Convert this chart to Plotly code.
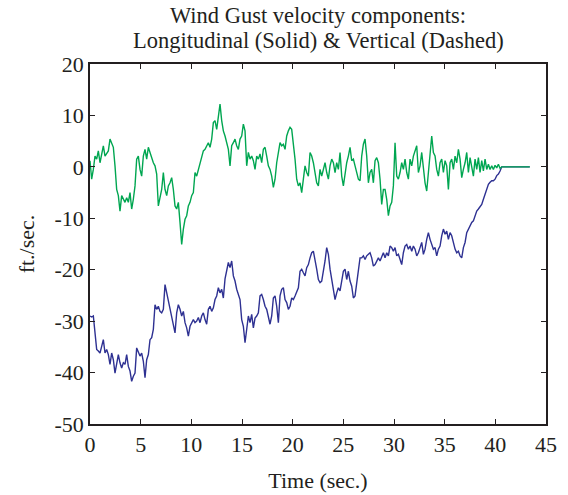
import numpy as np
import plotly.graph_objects as go

# sample period of the digitised gust record (s)
SAMPLE_DT = 0.1645
END_TIME = 43.4

# Vertical gust component (green), ft/sec
vertical = [
    1.2, -2.4, -0.5, 2.1, 1.5, 3.1, 0.8, 2.8, 4.1, 2.1,
    2.5, 3.1, 5.4, 4.7, 3.8, 0.2, -4.4, -5.6, -8.6, -5.6,
    -6.3, -6.9, -6.0, -6.9, -5.0, -8.2, -6.3, -3.7, 1.5, 2.1,
    -0.5, -1.8, 2.1, 3.4, 1.5, 3.8, 2.8, 1.5, 0.8, 0.2,
    -1.4, -7.6, -6.3, -4.4, -1.1, -4.4, -5.6, -3.7, -3.1, -2.1,
    -4.4, -7.6, -8.2, -6.9, -10.8, -15.1, -12.1, -10.2, -9.5, -7.6,
    -6.9, -5.6, -5.0, -1.1, -1.8, -0.5, 0.5, 2.1, 3.1, 3.4,
    4.1, 4.7, 3.8, 5.4, 8.6, 9.0, 7.3, 9.9, 12.2, 9.0,
    7.0, 6.0, 4.7, 3.4, 0.2, 4.1, 4.7, 5.4, 4.1, 3.4,
    5.4, 6.0, 8.3, 7.0, 0.2, 2.8, 1.5, 2.1, 1.2, -0.5,
    2.1, 1.5, 2.5, 0.8, 3.4, 3.8, 2.1, 0.2, -0.5, -1.8,
    -4.0, -2.4, 0.8, 2.8, 4.7, 4.1, 4.4, 3.4, 6.0, 7.0,
    7.7, 7.3, 4.7, 1.5, -2.4, -3.7, -3.1, -5.0, -2.4, 0.2,
    -1.1, -1.8, 2.8, 2.1, 0.8, -1.1, -3.1, -3.7, -0.5, -1.8,
    -0.5, 0.8, -1.1, -2.4, 0.2, 1.5, 0.8, -1.1, 0.8, -0.5,
    2.8, -1.8, -3.7, -1.1, 0.8, 2.1, 3.8, 1.2, 1.5, 0.2,
    -1.1, -2.4, -2.7, 2.1, 4.4, 5.4, 2.1, -3.1, -1.1, -0.5,
    -3.1, 1.2, 1.8, 0.8, -2.4, -7.3, -4.4, -4.4, -6.3, -9.5,
    -7.6, -6.9, -3.7,
    4.7, -1.8, -2.4, -1.1, 0.8, -0.5, 1.5, -1.1, -2.4, 1.5,
    0.2, 2.1, 3.1, 4.1, -1.1, 0.2, 2.8, -0.5, -3.1, -4.7,
    -1.1, 2.8, 6.0, 2.8, 2.1, -0.5, -1.8, 0.8, 1.5, -1.1,
    1.2, 0.2, -4.4, 0.8, 1.5, -0.5, 2.1, 0.8, 3.4, 1.5,
    -2.1, -0.5, 0.8, 2.8, -1.1, 1.8, 0.2, -1.8, 1.5, -0.5,
    1.8, -1.1, 1.2, -0.8, 1.5, -0.5, 0.5, -0.5, 0.2, -0.5,
    0.3, -0.2, 0.5, -0.3, 0.0,
]

# Longitudinal gust component (blue), ft/sec
longitudinal = [
    -29.0, -29.2, -29.0, -32.3, -35.5, -35.8, -36.2, -34.9, -33.6, -36.2,
    -35.5, -36.5, -38.4, -36.2, -37.5, -40.1, -38.1, -36.5, -38.1, -39.1,
    -38.1, -38.4, -36.5, -38.8, -39.7, -41.7, -40.7, -40.1, -35.2, -36.2,
    -36.8, -36.2, -37.8, -41.0, -37.5, -36.5, -33.6, -33.2, -31.6, -26.8,
    -27.7, -27.1, -28.1, -28.4, -27.7, -22.9, -24.5, -25.8, -27.7, -29.3,
    -31.0, -32.3, -28.4, -26.8, -27.7, -29.0, -28.1, -30.3, -31.3, -32.9,
    -31.0, -30.3, -29.7, -30.3, -30.0, -29.3, -30.3, -29.0, -28.4, -29.7,
    -30.6, -27.7, -27.1, -28.1, -27.4, -25.8, -25.1, -23.5, -24.5, -23.8,
    -25.5, -21.8, -20.2, -18.6, -19.6, -18.3, -21.2, -22.2, -23.8, -25.1,
    -25.8, -29.7, -31.0, -34.2, -31.0, -29.0, -30.3, -28.7, -31.3, -29.4,
    -29.0, -28.4, -25.1, -24.8, -25.8, -27.1, -27.7, -29.4, -30.6, -29.0,
    -25.5, -25.1, -27.1, -30.3, -25.1, -23.8, -23.5, -25.8, -26.4, -27.7,
    -27.1, -25.5, -25.8, -25.1, -24.1, -23.5, -20.3, -19.9, -20.6, -21.2,
    -19.6, -19.0, -17.7, -16.7, -16.4, -18.6, -19.9, -21.9, -22.5, -22.2,
    -20.6, -18.3, -15.7, -17.0, -19.9, -21.9, -23.8, -25.8, -24.5, -23.5,
    -24.1, -21.9, -20.3, -19.9, -21.9, -20.3, -22.2, -23.2, -25.5, -25.1,
    -22.2, -20.6, -17.7, -17.7, -17.3, -18.0, -17.3, -17.0, -16.7, -17.7,
    -19.3, -19.0, -18.3, -17.7, -18.3, -17.3, -16.7, -17.7, -16.7, -17.3,
    -15.4, -15.7, -16.4,
    -15.7, -17.3, -17.0, -18.0, -19.0, -16.7, -15.4, -15.1, -16.0, -15.4,
    -16.4, -15.4, -16.0, -17.3, -16.7, -15.7, -14.7, -17.0, -16.0, -14.1,
    -12.8, -14.1, -15.1, -16.0, -15.7, -17.3, -16.0, -15.4, -13.4, -12.1,
    -13.1, -12.5, -14.1, -12.8, -13.4, -14.7, -16.0, -16.7, -16.4, -17.3,
    -17.7, -15.7, -14.7, -12.8, -12.1, -11.2, -10.8, -10.5, -9.5, -8.6,
    -8.2, -7.6, -7.3, -6.3, -5.3, -4.7, -3.4, -3.0, -2.7, -2.7,
    -2.4, -1.7, -1.4, -0.8, 0.0,
]

x_ticks = [0, 5, 10, 15, 20, 25, 30, 35, 40, 45]
y_ticks = [-50, -40, -30, -20, -10, 0, 10, 20]
y_tick_text = ["-50", "-40", "-30", "-20", "-10", "0", "10", "20"]

title_lines = ["Wind Gust velocity components:",
               "Longitudinal (Solid) &amp; Vertical (Dashed)"]

time = list(np.arange(len(vertical)) * SAMPLE_DT) + [END_TIME]
vert_full = vertical + [0.0]
long_full = longitudinal + [0.0]

FONT = "Liberation Serif"
AX = "#231f20"

fig = go.Figure()
fig.add_trace(go.Scatter(x=time, y=long_full, mode="lines",
                         line=dict(color="#2e3192", width=1.4), showlegend=False))
fig.add_trace(go.Scatter(x=time, y=vert_full, mode="lines",
                         line=dict(color="#00a651", width=1.4), showlegend=False))

axis_common = dict(showline=True, linecolor=AX, linewidth=1.6, mirror="ticks",
                   ticks="inside", ticklen=5, tickwidth=1.2, tickcolor=AX,
                   showgrid=False, zeroline=False, automargin=False,
                   tickfont=dict(family=FONT, size=22, color=AX))

fig.update_layout(
    width=568, height=495,
    margin=dict(l=90, r=22, t=64, b=71),
    paper_bgcolor="white", plot_bgcolor="white",
    font=dict(family=FONT, size=22, color=AX),
    xaxis=dict(range=[0, 45], tickvals=x_ticks,
               title=dict(text="Time (sec.)", standoff=16,
                          font=dict(family=FONT, size=22, color=AX)),
               **axis_common),
    yaxis=dict(range=[-50, 20], tickvals=y_ticks, ticktext=y_tick_text,
               title=dict(text="ft./sec.", standoff=14,
                          font=dict(family=FONT, size=22, color=AX)),
               **axis_common),
)

fig.add_annotation(text=title_lines[0], xref="paper", yref="paper",
                   x=0.5, y=1.136, xanchor="center", yanchor="middle",
                   showarrow=False, font=dict(family=FONT, size=22.5, color=AX))
fig.add_annotation(text=title_lines[1], xref="paper", yref="paper",
                   x=0.5, y=1.064, xanchor="center", yanchor="middle",
                   showarrow=False, font=dict(family=FONT, size=22.5, color=AX))

fig.write_html("out.html")
